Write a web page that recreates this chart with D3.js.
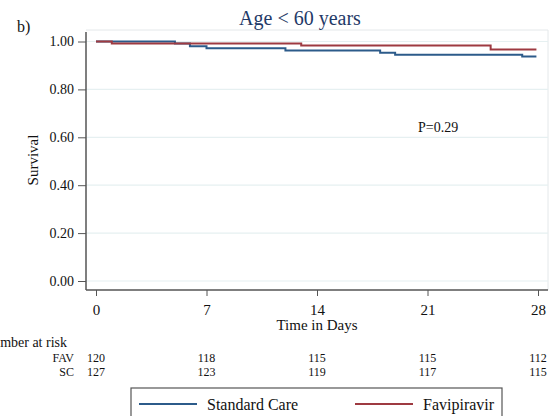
<!DOCTYPE html>
<html>
<head>
<meta charset="utf-8">
<script src="https://cdn.jsdelivr.net/npm/d3@7"></script>
<style>
  body { margin: 0; background: #fff; }
  svg { display: block; font-family: "Liberation Serif", "Times New Roman", serif; }
</style>
</head>
<body>
<svg id="chart" width="552" height="416"></svg>
<script>
// Kaplan-Meier steps: [day, survival]
const scSteps = [[0, 1], [5, 0.992], [5.95, 0.98], [7, 0.972], [12, 0.962], [18, 0.953], [18.95, 0.945], [27, 0.937], [27.9, 0.937]];
const favSteps = [[0, 1], [1, 0.992], [13, 0.983], [25, 0.967], [27.9, 0.967]];

const xTicks = [0, 7, 14, 21, 28];
const yTicks = [0, 0.2, 0.4, 0.6, 0.8, 1.0];

// number at risk table
const riskGroups = ["FAV", "SC"];
const favAtRisk = [120, 118, 115, 115, 112];
const scAtRisk = [127, 123, 119, 117, 115];

const blue = "#2c5b8a", red = "#9e3a41";

const svg = d3.select("#chart");

// scales
const x = d3.scaleLinear().domain([0, 28]).range([96, 538]);
const y = d3.scaleLinear().domain([0, 1]).range([281, 41.5]);
const pLeft = 86, pRight = 548, pTop = 30, pBottom = 290;

// plot region frame (faint)
svg.append("path")
  .attr("d", `M${pLeft},${pTop}H${pRight}V${pBottom}`)
  .attr("fill", "none").attr("stroke", "#e4e8ea").attr("stroke-width", 1);

// gridlines
svg.append("g").selectAll("line").data(yTicks).join("line")
  .attr("x1", pLeft).attr("x2", pRight)
  .attr("y1", d => y(d)).attr("y2", d => y(d))
  .attr("stroke", "#e6f0f1").attr("stroke-width", 1.2);

// y axis
const yAxis = svg.append("g")
  .attr("transform", `translate(${pLeft},0)`)
  .call(d3.axisLeft(y).tickValues(yTicks).tickFormat(d3.format(".2f")).tickSize(8).tickPadding(4));
yAxis.select(".domain").remove();
yAxis.selectAll("line").attr("stroke", "#555");
yAxis.selectAll("text").attr("font-size", 14).attr("font-family", "Liberation Serif").attr("fill", "#111");

// x axis
const xAxis = svg.append("g")
  .attr("transform", `translate(0,${pBottom})`)
  .call(d3.axisBottom(x).tickValues(xTicks).tickSize(6).tickPadding(8));
xAxis.select(".domain").remove();
xAxis.selectAll("line").attr("stroke", "#555");
xAxis.selectAll("text").attr("font-size", 15).attr("font-family", "Liberation Serif").attr("fill", "#111");

// axis lines
svg.append("line").attr("x1", pLeft).attr("x2", pLeft).attr("y1", pTop + 2).attr("y2", pBottom)
  .attr("stroke", "#555").attr("stroke-width", 1.5);
svg.append("line").attr("x1", pLeft).attr("x2", pRight).attr("y1", pBottom).attr("y2", pBottom)
  .attr("stroke", "#555").attr("stroke-width", 1.5);

// survival curves
const step = d3.line().x(d => x(d[0])).y(d => y(d[1])).curve(d3.curveStepAfter);
svg.append("path").datum(scSteps).attr("d", step)
  .attr("fill", "none").attr("stroke", blue).attr("stroke-width", 2);
svg.append("path").datum(favSteps).attr("d", step)
  .attr("fill", "none").attr("stroke", red).attr("stroke-width", 2);

// titles
svg.append("text").attr("x", 300).attr("y", 25).attr("text-anchor", "middle")
  .attr("font-size", 20).attr("fill", "#1f3a68").text("Age < 60 years");
svg.append("text").attr("x", 17).attr("y", 32).attr("font-size", 16).attr("fill", "#111").text("b)");
svg.append("text").attr("transform", "translate(38,160) rotate(-90)").attr("text-anchor", "middle")
  .attr("font-size", 15).attr("fill", "#111").text("Survival");
svg.append("text").attr("x", x(14)).attr("y", 330).attr("text-anchor", "middle")
  .attr("font-size", 15).attr("fill", "#111").text("Time in Days");
svg.append("text").attr("x", 418).attr("y", 132)
  .attr("font-size", 14).attr("fill", "#111").text("P=0.29");

// number at risk (cut off at the left edge, as in the source figure)
svg.append("text").attr("x", 67).attr("y", 347).attr("text-anchor", "end")
  .attr("font-size", 14).attr("fill", "#111").text("Number at risk");
const riskRows = [favAtRisk, scAtRisk];
riskRows.forEach((row, i) => {
  const yy = 362 + i * 14;
  svg.append("text").attr("x", 74).attr("y", yy).attr("text-anchor", "end")
    .attr("font-size", 12).attr("fill", "#111").text(riskGroups[i]);
  svg.append("g").selectAll("text").data(row).join("text")
    .attr("x", (d, j) => x(xTicks[j])).attr("y", yy).attr("text-anchor", "middle")
    .attr("font-size", 12).attr("fill", "#111").text(d => d);
});

// legend
const legend = svg.append("g");
legend.append("rect").attr("x", 131).attr("y", 388).attr("width", 371).attr("height", 40)
  .attr("fill", "#fff").attr("stroke", "#555").attr("stroke-width", 1.2);
const items = [["Standard Care", blue, 139], ["Favipiravir", red, 355]];
items.forEach(([label, col, lx]) => {
  legend.append("line").attr("x1", lx).attr("x2", lx + 58).attr("y1", 404).attr("y2", 404)
    .attr("stroke", col).attr("stroke-width", 2);
  legend.append("text").attr("x", lx + 68).attr("y", 410).attr("font-size", 16).attr("fill", "#111").text(label);
});
</script>
</body>
</html>
